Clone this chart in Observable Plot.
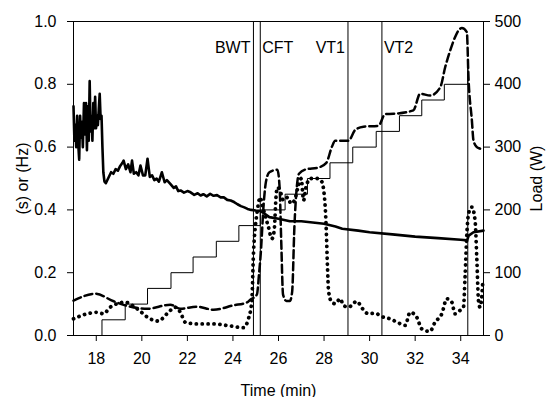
<!DOCTYPE html>
<html>
<head>
<meta charset="utf-8">
<script src="https://cdn.jsdelivr.net/npm/d3@7"></script>
<script src="https://cdn.jsdelivr.net/npm/@observablehq/plot@0.6"></script>
<style>
  html, body { margin: 0; padding: 0; background: #fff; }
  svg { display: block; }
</style>
</head>
<body>
<div id="chart"></div>
<script>
// ---- data ----
const xTicks = [18, 20, 22, 24, 26, 28, 30, 32, 34];
const yTicks = [0, 0.2, 0.4, 0.6, 0.8, 1.0];
const loadTicks = [0, 100, 200, 300, 400, 500];
const loadMax = 500;

const markerNames = ["BWT", "CFT", "VT1", "VT2"];
const markerTimes = [24.9, 25.2, 29.05, 30.54];
const markerSide = ["left", "right", "left", "right"];

// Load (W) step protocol
const loadT = [17, 18.25, 19.27, 20.25, 21.28, 22.25, 23.27, 24.26, 25.2, 26.29, 27.27, 28.26, 29.26, 30.29, 31.31, 32.29, 33.28, 34.31, 34.31, 35];
const loadW = [0, 25, 50, 75, 100, 125, 150, 175, 200, 225, 250, 275, 300, 325, 350, 375, 400, 425, 0, 0];

// solid series (s)
const solidT = [17.00, 17.04, 17.08, 17.12, 17.16, 17.20, 17.25, 17.29, 17.33, 17.37, 17.41, 17.46, 17.50, 17.55, 17.59, 17.63, 17.67, 17.71, 17.75, 17.79, 17.83, 17.87, 17.91, 17.95, 17.99, 18.03, 18.07, 18.11, 18.15, 18.19, 18.23, 18.27, 18.31, 18.36, 18.42,
  18.55, 18.65, 18.75, 18.85, 18.95, 19.05, 19.15, 19.2, 19.3, 19.4, 19.5, 19.57, 19.65, 19.75, 19.85, 19.94, 20.05, 20.15, 20.25, 20.35, 20.45, 20.55, 20.65, 20.75, 20.88, 21.0, 21.1, 21.25, 21.4, 21.5, 21.6, 21.7, 21.85, 22.0, 22.14, 22.3, 22.45, 22.58, 22.7, 22.85, 23.0, 23.15, 23.3, 23.46, 23.6, 23.75, 23.9, 24.05, 24.2, 24.35, 24.5, 24.64, 24.8, 25.0, 25.2, 25.35, 25.6, 26.0, 26.5, 27.0, 27.5, 28.0, 28.5, 28.8, 29.5, 30.0, 31.0, 32.0, 33.0, 34.0, 34.28, 34.35, 34.56, 35.0];
const solidV = [0.73, 0.62, 0.67, 0.60, 0.70, 0.62, 0.56, 0.70, 0.63, 0.68, 0.60, 0.74, 0.64, 0.74, 0.59, 0.73, 0.62, 0.81, 0.65, 0.70, 0.62, 0.74, 0.66, 0.76, 0.66, 0.70, 0.67, 0.72, 0.77, 0.69, 0.70, 0.60, 0.52, 0.49, 0.485,
  0.505, 0.52, 0.515, 0.53, 0.525, 0.54, 0.55, 0.557, 0.53, 0.545, 0.52, 0.557, 0.515, 0.52, 0.51, 0.541, 0.51, 0.51, 0.563, 0.505, 0.51, 0.495, 0.50, 0.49, 0.52, 0.488, 0.495, 0.483, 0.47, 0.475, 0.46, 0.462, 0.455, 0.46, 0.456, 0.448, 0.453, 0.446, 0.45, 0.443, 0.451, 0.445, 0.447, 0.44, 0.44, 0.432, 0.43, 0.425, 0.418, 0.412, 0.408, 0.403, 0.40, 0.398, 0.397, 0.39, 0.377, 0.372, 0.364, 0.364, 0.36, 0.356, 0.347, 0.34, 0.334, 0.329, 0.322, 0.315, 0.31, 0.305, 0.303, 0.318, 0.329, 0.334];

// dashed series (Hz)
const dashT = [17, 17.96, 18.76, 19.27, 20.23, 21.25, 21.69, 22.42, 23.15, 24.02, 24.61, 24.76, 25.05, 25.15, 25.22, 25.35, 25.45, 25.6, 25.95, 26.05, 26.12, 26.2, 26.35, 26.5, 26.6, 26.7, 26.8, 26.9, 27.25, 27.7, 28.1, 28.34, 28.49, 29.07, 29.37, 29.73, 30.39, 30.68, 31.05, 31.92, 32.22, 32.66, 33.1, 33.32, 33.54, 33.75, 33.97, 34.05, 34.27, 34.34, 34.49, 34.56, 34.71, 34.85, 35];
const dashV = [0.111, 0.133, 0.109, 0.096, 0.085, 0.098, 0.085, 0.092, 0.082, 0.096, 0.105, 0.114, 0.13, 0.2, 0.26, 0.42, 0.49, 0.52, 0.528, 0.47, 0.3, 0.13, 0.11, 0.11, 0.14, 0.35, 0.47, 0.515, 0.53, 0.534, 0.55, 0.6, 0.62, 0.62, 0.655, 0.665, 0.668, 0.705, 0.706, 0.717, 0.77, 0.764, 0.79, 0.855, 0.908, 0.95, 0.977, 0.979, 0.966, 0.823, 0.685, 0.621, 0.6, 0.595, 0.59];

// dotted series (Hz)
const dotT = [17, 17.59, 18.03, 18.32, 18.61, 19.27, 19.79, 20.37, 20.73, 21.1, 21.47, 21.69, 21.91, 22.42, 23.15, 23.74, 24.46, 24.68, 24.83, 24.9, 24.98, 25.05, 25.2, 25.27, 25.56, 25.71, 25.81, 25.9, 25.96, 26.07, 26.22, 26.4, 26.55, 26.7, 26.85, 27.0, 27.1, 27.2, 27.4, 27.7, 27.9, 28.05, 28.1, 28.15, 28.2, 28.34, 28.49, 28.71, 28.85, 29.07, 29.44, 29.66, 29.95, 30.24, 30.54, 30.9, 31.27, 31.56, 31.78, 32.07, 32.29, 32.65, 32.87, 33.17, 33.39, 33.61, 33.75, 33.97, 34.12, 34.19, 34.27, 34.34, 34.49, 34.63, 34.71, 34.78, 34.85, 34.97];
const dotV = [0.053, 0.069, 0.074, 0.069, 0.09, 0.106, 0.085, 0.053, 0.046, 0.069, 0.09, 0.074, 0.042, 0.037, 0.037, 0.032, 0.025, 0.053, 0.111, 0.26, 0.345, 0.387, 0.44, 0.42, 0.345, 0.308, 0.334, 0.45, 0.472, 0.46, 0.43, 0.44, 0.42, 0.43, 0.47, 0.5, 0.43, 0.47, 0.5, 0.5, 0.49, 0.41, 0.33, 0.22, 0.14, 0.106, 0.101, 0.117, 0.096, 0.09, 0.109, 0.088, 0.069, 0.071, 0.06, 0.053, 0.04, 0.032, 0.074, 0.058, 0.021, 0.013, 0.042, 0.069, 0.117, 0.106, 0.069, 0.08, 0.09, 0.186, 0.324, 0.387, 0.409, 0.366, 0.239, 0.111, 0.09, 0.17];

// ---- build tables ----
const zip = (ts, vs) => ts.map((t, i) => ({t, v: vs[i]}));
const solid = zip(solidT, solidV);
const dashed = zip(dashT, dashV);
const dotted = zip(dotT, dotV);
const load = loadT.map((t, i) => ({t, v: loadW[i] / loadMax}));
const markers = markerNames.map((name, i) => ({name, t: markerTimes[i], side: markerSide[i]}));

const font = "'Liberation Sans', Arial, Helvetica, sans-serif";

const chart = Plot.plot({
  width: 547,
  height: 397,
  marginLeft: 73,
  marginRight: 64,
  marginTop: 21,
  marginBottom: 62,
  style: {fontFamily: font, fontSize: "16px", background: "#fff", color: "#000", overflow: "visible"},
  x: {domain: [17, 35]},
  y: {domain: [0, 1]},
  marks: [
    Plot.line(load, {x: "t", y: "v", curve: "step-after", stroke: "#000", strokeWidth: 1}),
    Plot.ruleX(markers, {x: "t", stroke: "#000", strokeWidth: 1}),
    Plot.text(markers.filter(d => d.side === "left"), {x: "t", text: "name", frameAnchor: "top", dy: 20, dx: -3, textAnchor: "end", fill: "#000"}),
    Plot.text(markers.filter(d => d.side === "right"), {x: "t", text: "name", frameAnchor: "top", dy: 20, dx: 2, textAnchor: "start", fill: "#000"}),
    Plot.line(solid, {x: "t", y: "v", stroke: "#000", strokeWidth: 2.6, strokeLinejoin: "round"}),
    Plot.line(dashed, {x: "t", y: "v", stroke: "#000", strokeWidth: 2.5, strokeDasharray: "8,4", curve: "monotone-x"}),
    Plot.line(dotted, {x: "t", y: "v", stroke: "#000", strokeWidth: 3.8, strokeDasharray: "0.1,5.8", strokeLinecap: "round", curve: "monotone-x"}),
    Plot.frame({stroke: "#000", strokeWidth: 1}),
    Plot.axisX(xTicks, {tickSize: 6, tickPadding: 11, label: "Time (min)", labelAnchor: "center", labelOffset: 60, labelArrow: "none"}),
    Plot.axisY(yTicks, {anchor: "left", tickFormat: d3.format(".1f"), tickSize: 6, tickPadding: 11, label: "(s) or (Hz)", labelAnchor: "center", labelOffset: 57, labelArrow: "none"}),
    Plot.axisY(loadTicks.map(w => w / loadMax), {anchor: "right", tickFormat: d => String(Math.round(d * loadMax)), tickSize: 6, tickPadding: 5, label: "Load (W)", labelAnchor: "center", labelOffset: 58, labelArrow: "none"})
  ]
});
document.getElementById("chart").appendChild(chart);
</script>
</body>
</html>
